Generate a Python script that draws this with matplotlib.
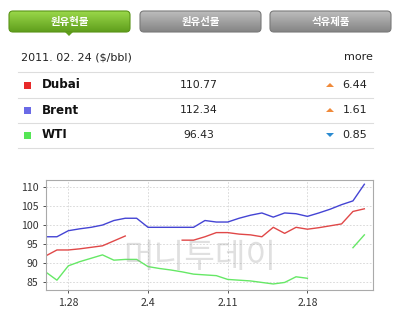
import numpy as np
import matplotlib
matplotlib.use("Agg")
import matplotlib.pyplot as plt
from matplotlib.patches import FancyBboxPatch, Rectangle, Polygon

plt.rcParams['font.family'] = ['Noto Sans CJK KR', 'DejaVu Sans']

# --- data ---
tabs = ["원유현물", "원유선물", "석유제품"]
date_label = "2011. 02. 24 ($/bbl)"
names = ["Dubai", "Brent", "WTI"]
prices = ["110.77", "112.34", "96.43"]
changes = ["6.44", "1.61", "0.85"]
directions = ["up", "up", "down"]

# days counted from Jan 28 (1.28 = 0), Jan 26 .. Feb 23
days = np.arange(-2, 27)
nan = np.nan
brent = [96.9, 96.9, 98.5, 99.0, 99.4, 100.0, 101.2, 101.8, 101.8, 99.4,
         99.4, 99.4, 99.4, 99.4, 101.2, 100.8, 100.8, 101.8, 102.6, 103.2,
         102.1, 103.2, 103.0, 102.3, 103.2, 104.2, 105.4, 106.4, 110.8]
dubai = [91.8, 93.4, 93.4, 93.7, 94.1, 94.5, 95.8, 97.1, nan, nan,
         nan, nan, 96.0, 96.0, 96.9, 98.0, 98.0, 97.6, 97.4, 96.9,
         99.4, 97.8, 99.4, 98.9, 99.3, 99.8, 100.3, 103.6, 104.3]
wti = [87.6, 85.4, 89.2, 90.3, 91.2, 92.1, 90.7, 90.9, 90.9, 89.0,
       88.5, 88.1, 87.6, 87.0, 86.8, 86.6, 85.6, 85.4, 85.2, 84.8,
       84.4, 84.8, 86.3, 85.9, nan, nan, nan, 94.0, 97.4]
tick_days = [0, 7, 14, 21]
tick_labels = ["1.28", "2.4", "2.11", "2.18"]
y_ticks = [85, 90, 95, 100, 105, 110]

W, H = 399, 328
fig = plt.figure(figsize=(W / 100, H / 100), dpi=100)
fig.patch.set_facecolor("white")

# overlay in pixel coordinates for the header/table part
ov = fig.add_axes([0, 0, 1, 1])
ov.set_xlim(0, W)
ov.set_ylim(H, 0)
ov.axis("off")

# tabs with a vertical gradient
tab_x = [9, 140, 270]
grad = np.linspace(0, 1, 64).reshape(-1, 1)
for i, (label, x0) in enumerate(zip(tabs, tab_x)):
    if i == 0:
        top, bot, ec = "#9ad84a", "#5f9e1c", "#5a9418"
    else:
        top, bot, ec = "#bdbdbd", "#848484", "#7a7a7a"
    cm = matplotlib.colors.LinearSegmentedColormap.from_list("g", [top, bot])
    box = FancyBboxPatch((x0, 11), 121, 21,
                         boxstyle="round,pad=0,rounding_size=4",
                         fc="none", ec=ec, lw=0.8, zorder=3)
    ov.add_patch(box)
    im = ov.imshow(grad, cmap=cm, extent=(x0, x0 + 121, 32, 11),
                   aspect="auto", zorder=2)
    im.set_clip_path(box)
    ov.text(x0 + 60.5, 21.5, label, color="white", fontsize=7.5,
            fontweight="bold", ha="center", va="center", zorder=4)
ov.add_patch(Polygon([[65, 32], [73, 32], [69, 36]], closed=True,
                     fc="#5f9e1c", ec="none", zorder=3))
ov.set_xlim(0, W)
ov.set_ylim(H, 0)

ov.text(21, 57, date_label, fontsize=8, color="#222222",
        ha="left", va="center", family=["DejaVu Sans"])
ov.text(373, 57, "more", fontsize=8, color="#222222",
        ha="right", va="center", family=["DejaVu Sans"])

for y in [72, 98, 123, 148]:
    ov.plot([18, 373], [y, y], color="#dddddd", lw=0.8)

sq_colors = ["#e82a2a", "#6a6ae6", "#55e655"]
arrow_colors = {"up": "#f08a3a", "down": "#2a8ad0"}
for i, (nm, pr, ch, dr) in enumerate(zip(names, prices, changes, directions)):
    yc = 85 + i * 25
    ov.add_patch(Rectangle((24, yc - 3.5), 7, 7, fc=sq_colors[i], ec="none"))
    ov.text(42, yc, nm, fontsize=8.6, fontweight="bold", color="#111111",
            ha="left", va="center", family=["DejaVu Sans"])
    ov.text(199, yc, pr, fontsize=7.8, color="#222222", ha="center",
            va="center", family=["DejaVu Sans"])
    ov.text(367, yc, ch, fontsize=8, color="#222222", ha="right",
            va="center", family=["DejaVu Sans"])
    if dr == "up":
        tri = [[326, yc + 2], [334, yc + 2], [330, yc - 2]]
    else:
        tri = [[326, yc - 2], [334, yc - 2], [330, yc + 2]]
    ov.add_patch(Polygon(tri, closed=True, fc=arrow_colors[dr], ec="none"))

# chart
ax = fig.add_axes([46 / W, 1 - 290 / H, 327 / W, 110 / H])
ax.plot(days, brent, color="#4444d4", lw=1.0)
ax.plot(days, dubai, color="#e04848", lw=1.0)
ax.plot(days, wti, color="#66e866", lw=1.0)
ax.set_xlim(-1.96, 26.76)
ax.set_ylim(82.8, 111.93)
ax.set_xticks(tick_days)
ax.set_xticklabels(tick_labels)
ax.set_yticks(y_ticks)
ax.tick_params(labelsize=7.6, colors="#333333", length=2, width=0.6)
ax.grid(True, color="#d4d4d4", ls=(0, (2, 2)), lw=0.6)
for s in ax.spines.values():
    s.set_color("#aaaaaa")
    s.set_linewidth(0.8)

# watermark
ax.text(0.47, 0.30, "머니투데이", transform=ax.transAxes, fontsize=24,
        color="#999999", alpha=0.3, ha="center", va="center")

fig.savefig("out.png", dpi=100)
